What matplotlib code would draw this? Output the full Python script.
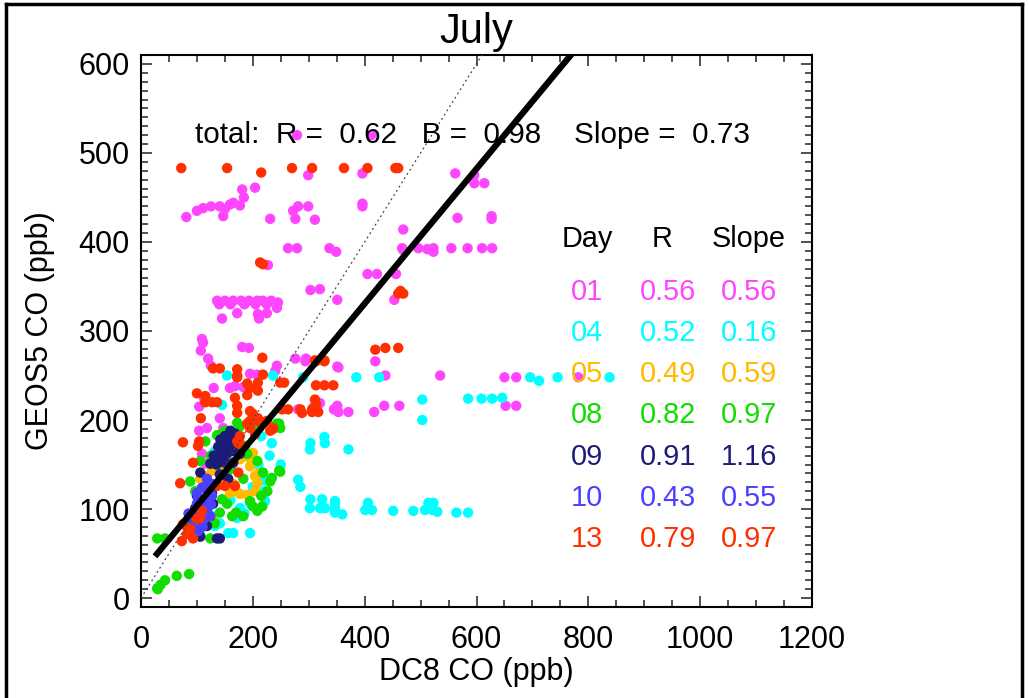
import matplotlib
matplotlib.use("Agg")
import matplotlib.pyplot as plt
from matplotlib.lines import Line2D
from matplotlib.ticker import MultipleLocator

plt.rcParams['font.family'] = ['Liberation Sans', 'DejaVu Sans']

# ---------------- data ----------------
days = ["01", "04", "05", "08", "09", "10", "13"]
day_R = ["0.56", "0.52", "0.49", "0.82", "0.91", "0.43", "0.79"]
day_slope = ["0.56", "0.16", "0.59", "0.97", "1.16", "0.55", "0.97"]
day_colors = ["#ff46ff", "#00ffff", "#ffbb00", "#11dd00", "#1c1c78", "#4b40ff", "#ff3000"]

x01 = [279, 412, 562, 596, 596, 614, 299, 396, 204, 281, 272, 299, 276, 311, 231, 396, 396, 469, 566, 627, 627,
       81, 100, 111, 125, 141, 159, 181, 184, 177, 147, 165, 150,
       263, 279, 337, 349, 467, 469, 496, 512, 523, 523, 555, 584, 610, 628,
       405, 422, 456, 227, 303, 320, 351, 453,
       136, 150, 165, 179, 193, 208, 218, 233, 245, 140, 160, 185, 205, 225, 172, 209, 225, 145, 211, 243,
       109, 111, 107, 120, 125, 181, 193, 276, 295, 351, 243, 240, 159, 168, 183, 195, 208, 104, 141, 104, 118,
       308, 320, 351, 109, 115, 147, 281, 308, 345, 113, 130,
       294, 353, 419, 437, 535, 650, 671, 782, 353, 371, 417, 435, 462, 652, 671]
y01 = [520, 520, 477, 475, 466, 466, 475, 477, 461, 440, 435, 440, 426, 425, 426, 443, 440, 414, 427, 429, 426,
       428, 435, 438, 440, 440, 442, 459, 450, 441, 429, 444, 437,
       393, 393, 393, 389, 393, 391, 393, 392, 393, 389, 393, 393, 393, 393,
       364, 364, 364, 374, 346, 347, 335, 335,
       334, 334, 334, 334, 334, 334, 334, 334, 332, 330, 330, 330, 330, 330, 320, 319, 320, 314, 314, 326,
       291, 287, 278, 269, 261, 282, 281, 269, 269, 260, 261, 255, 236, 238, 237, 252, 251, 215, 202, 188, 191,
       214, 219, 216, 162, 151, 191, 212, 212, 212, 224, 236,
       266, 259, 266, 250, 250, 248, 248, 248, 209, 209, 209, 216, 216, 216, 216]

x04 = [290, 385, 426, 696, 712, 745, 838, 503, 503, 585, 609, 628, 646, 302, 329, 371, 285, 302, 320, 329, 347,
       347, 360, 401, 406, 413, 451, 487, 508, 514, 523, 521, 530, 564, 585,
       154, 236, 145, 234, 303, 328, 218, 220, 220, 222, 281, 303, 324, 347, 347, 195, 177, 172, 156, 165, 195,
       132, 141, 127, 120, 132, 192, 210, 200, 185, 160, 230, 215, 250]
y04 = [248, 248, 248, 248, 244, 248, 248, 223, 200, 224, 224, 224, 225, 167, 174, 167, 125, 101, 101, 101, 101,
       96, 94, 99, 107, 99, 98, 98, 99, 107, 107, 99, 97, 96, 96,
       250, 250, 217, 174, 174, 181, 141, 132, 120, 109, 133, 111, 111, 109, 106, 106, 101, 90, 73, 73, 73,
       81, 84, 92, 101, 165, 162, 150, 125, 95, 110, 160, 182, 150]

x05 = [195, 195, 204, 208, 204, 190, 177, 159, 154, 166, 118, 127, 106, 136, 141, 150, 163, 177, 129, 120,
       185, 200, 210, 170, 145, 140, 155, 140]
y05 = [157, 148, 137, 129, 120, 116, 117, 118, 128, 128, 137, 143, 134, 143, 146, 151, 152, 156, 90, 89,
       160, 163, 140, 120, 130, 165, 172, 169]

x08 = [29, 43, 29, 30, 43, 64, 86, 35, 138, 154, 177, 190, 234, 249, 183, 200, 208, 183, 163, 154, 145, 124, 106,
       132, 172, 249, 243, 209, 247, 136, 88, 97, 115, 141, 170, 195, 217, 226, 208, 186, 150, 115, 106, 231,
       160, 125, 100, 215, 218, 247]
y08 = [67, 67, 11, 10, 20, 25, 27, 15, 183, 181, 193, 162, 135, 142, 134, 103, 98, 92, 92, 106, 111, 67, 70,
       84, 197, 191, 196, 193, 196, 183, 131, 120, 103, 96, 96, 109, 103, 120, 154, 171, 188, 176, 154, 131,
       145, 160, 100, 115, 141, 143]

x09 = [106, 124, 141, 156, 111, 118, 127, 129, 136, 141, 106, 118, 91, 97, 138, 147, 159, 172, 165, 154, 141, 177,
       150, 165, 163, 156, 172, 145, 168, 160, 150, 130, 135, 120, 100, 110, 180, 175, 152, 142]
y09 = [141, 151, 139, 134, 124, 109, 118, 106, 67, 67, 69, 81, 94, 101, 170, 176, 179, 174, 165, 162, 160, 162,
       152, 152, 171, 174, 173, 168, 185, 188, 182, 160, 150, 130, 115, 100, 170, 180, 165, 178]

x10 = [109, 102, 100, 97, 93, 91, 118, 115, 124, 111, 102, 127, 120, 129, 118, 100, 109, 88, 95, 105, 113, 85, 98,
       110, 125]
y10 = [124, 112, 106, 98, 90, 83, 98, 92, 92, 87, 75, 115, 126, 128, 134, 118, 107, 87, 78, 95, 110, 95, 88,
       80, 105]

x13 = [72, 154, 215, 270, 306, 363, 405, 455, 460, 464, 460, 469, 213, 218, 419, 437, 460, 313, 328, 313, 328, 344,
       313, 306, 317, 288,
       129, 141, 172, 172, 172, 218, 217, 311, 328, 190, 195, 209, 209, 190, 100, 115, 115, 127, 136, 168, 172, 172,
       107, 249, 256, 252, 263, 285, 311, 306, 200, 195, 208, 225, 231, 236, 195, 204, 190, 177, 174, 75, 104, 102,
       70, 93, 174, 172, 177, 136, 150, 168, 109, 106, 100, 75, 88, 82, 73, 93, 209, 236, 195]
y13 = [483, 483, 478, 483, 483, 483, 483, 483, 483, 345, 342, 342, 377, 375, 279, 281, 281, 266, 266, 239, 239, 239,
       218, 209, 209, 208,
       258, 258, 257, 250, 248, 251, 270, 267, 267, 241, 236, 242, 233, 228, 230, 227, 220, 220, 220, 225, 216, 208,
       202, 242, 242, 212, 212, 212, 223, 212, 207, 199, 199, 199, 188, 191, 191, 184, 196, 182, 174, 175, 176, 171,
       129, 152, 141, 176, 173, 126, 126, 126, 98, 90, 89, 83, 78, 72, 64, 67, 202, 190, 210]

series_x = [x01, x04, x05, x08, x09, x10, x13]
series_y = [y01, y04, y05, y08, y09, y10, y13]

total_R, total_B, total_slope = "0.62", "0.98", "0.73"
fit_slope, fit_intercept = 0.757, 28.0
fit_xrange = [25, 900]

# ---------------- figure ----------------
fig = plt.figure(figsize=(10.29, 6.98), dpi=100)
ax = fig.add_axes([141 / 1029, 1 - 607 / 698, 671 / 1029, 552 / 698])

for xs, ys, c in zip(series_x, series_y, day_colors):
    ax.scatter(xs, ys, s=56, color=c, edgecolors='none', zorder=2)

# 1:1 line
ax.plot([0, 700], [0, 700], linestyle=(0, (1.5, 2.5)), color='#444444', linewidth=0.9, zorder=3)
# fit line
fx = fit_xrange
fy = [fit_slope * v + fit_intercept for v in fx]
ax.plot(fx, fy, color='black', linewidth=4.5, zorder=4, solid_capstyle='butt')

ax.set_xlim(0, 1200)
ax.set_ylim(-10, 610)
ax.set_xticks([0, 200, 400, 600, 800, 1000, 1200])
ax.set_yticks([0, 100, 200, 300, 400, 500, 600])
ax.xaxis.set_minor_locator(MultipleLocator(50))
ax.yaxis.set_minor_locator(MultipleLocator(10))
ax.tick_params(which='both', direction='in', top=True, right=True, color='#333333', width=1.2)
ax.tick_params(which='major', length=8)
ax.tick_params(which='minor', length=5)
ax.tick_params(axis='x', which='major', labelsize=22, pad=13)
ax.tick_params(axis='y', which='major', labelsize=22, pad=8)
for sp in ax.spines.values():
    sp.set_linewidth(1.5)

ax.set_xlabel("DC8 CO (ppb)", fontsize=22)
ax.set_ylabel("GEOS5 CO (ppb)", fontsize=22)
ax.xaxis.set_label_coords(0.5, -0.09)
ax.yaxis.set_label_coords(-0.128, 0.5)
ax.set_title("July", fontsize=30, pad=9)

ax.text(0.081, 0.84,
        f"total:  R =  {total_R}   B =  {total_B}    Slope =  {total_slope}",
        transform=ax.transAxes, fontsize=21.3, ha='left', va='baseline', zorder=5)

# table
col_x = [0.665, 0.785, 0.906]
ax.text(col_x[0], 0.652, "Day", transform=ax.transAxes, fontsize=20.8, ha='center', va='baseline')
ax.text(0.776, 0.652, "R", transform=ax.transAxes, fontsize=20.8, ha='center', va='baseline')
ax.text(col_x[2], 0.652, "Slope", transform=ax.transAxes, fontsize=20.8, ha='center', va='baseline')
row0, step = 0.556, 0.0745
for i, (d, r, sl, c) in enumerate(zip(days, day_R, day_slope, day_colors)):
    yy = row0 - i * step
    for cx, t in zip(col_x, (d, r, sl)):
        ax.text(cx, yy, t, transform=ax.transAxes, fontsize=20.8, color=c, ha='center', va='baseline', zorder=5)

# figure border
lw = 2.5
fig.add_artist(Line2D([6 / 1029, 6 / 1029], [0, 1 - 4 / 698], color='black', linewidth=lw))
fig.add_artist(Line2D([1022 / 1029, 1022 / 1029], [0, 1 - 4 / 698], color='black', linewidth=lw))
fig.add_artist(Line2D([6 / 1029, 1022 / 1029], [1 - 4 / 698, 1 - 4 / 698], color='black', linewidth=lw))

fig.savefig("out.png", dpi=100)
